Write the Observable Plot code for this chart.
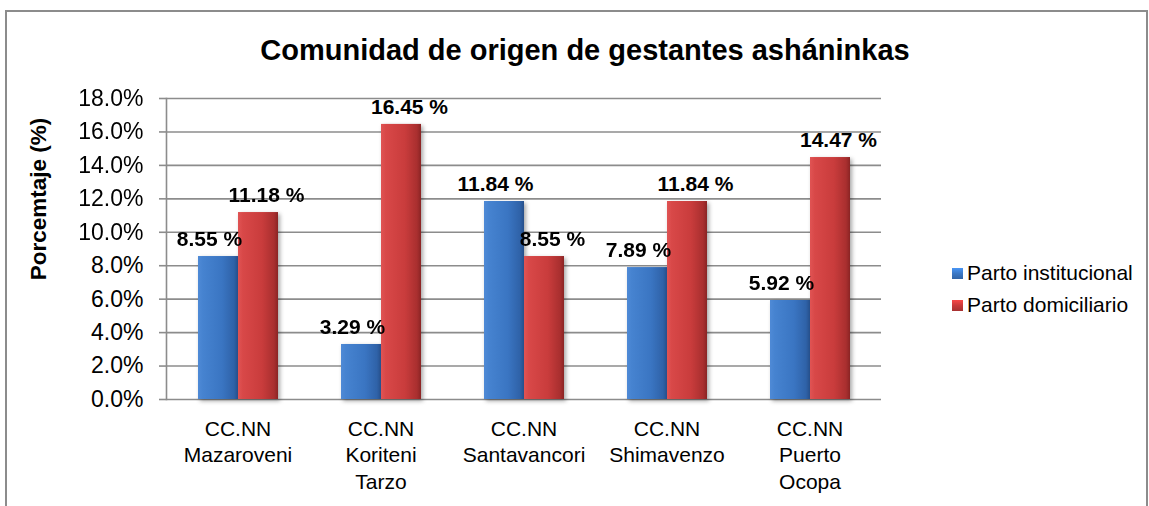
<!DOCTYPE html>
<html>
<head>
<meta charset="utf-8">
<script src="https://cdn.jsdelivr.net/npm/d3@7"></script>
<script src="https://cdn.jsdelivr.net/npm/@observablehq/plot@0.6"></script>
<style>
  html, body { margin: 0; padding: 0; background: #fff; overflow: hidden; }
  #wrap { position: relative; width: 1149px; height: 506px; overflow: hidden; font-family: "Liberation Sans", Arial, sans-serif; }
  #border { position: absolute; left: 5px; top: 10px; width: 1139px; height: 520px; border: 2px solid #8c8c8c; }
  #title { position: absolute; left: 0; width: 1170px; top: 34px; text-align: center; font-weight: bold; font-size: 29px; color: #000; }
  #chart { position: absolute; left: 0; top: 0; }
  #ylabel { position: absolute; left: 39px; top: 199px; transform: translate(-50%, -50%) rotate(-90deg); white-space: nowrap; font-weight: bold; font-size: 22.5px; color: #000; }
  #legend { position: absolute; left: 952px; top: 257px; font-size: 21px; color: #000; }
  .li { display: flex; align-items: center; height: 32px; }
  .sw { width: 11px; height: 11px; margin-right: 4px; }
</style>
</head>
<body>
<div id="wrap">
  <div id="border"></div>
  <div id="chart"></div>
  <div id="title">Comunidad de origen de gestantes asháninkas</div>
  <div id="ylabel">Porcemtaje (%)</div>
  <div id="legend"></div>
</div>
<script>
const categories = ["CC.NN\nMazaroveni", "CC.NN\nKoriteni\nTarzo", "CC.NN\nSantavancori", "CC.NN\nShimavenzo", "CC.NN\nPuerto\nOcopa"];
const series = ["Parto institucional", "Parto domiciliario"];
const institucional = [8.55, 3.29, 11.84, 7.89, 5.92];
const domiciliario = [11.18, 16.45, 8.55, 11.84, 14.47];
const yTicks = [0, 2, 4, 6, 8, 10, 12, 14, 16, 18];
const seriesColors = ["#3b78c6", "#c83a3a"];

const rows = [];
categories.forEach((c, i) => {
  rows.push({cat: c, series: series[0], value: institucional[i]});
  rows.push({cat: c, series: series[1], value: domiciliario[i]});
});

const font = "Liberation Sans, Arial, sans-serif";
const gridColor = "#8c8c8c";
const labelOpts = {fx: "cat", x: "series", y: "value", text: d => d.value.toFixed(2) + " %",
  dy: -17, fontWeight: "bold", fontSize: 21, fill: "#000"};

const plot = Plot.plot({
  width: 1149,
  height: 506,
  marginLeft: 164,
  marginRight: 266,
  marginTop: 98,
  marginBottom: 107,
  style: {fontFamily: font, fontSize: "21px", color: "#000", background: "transparent"},
  fx: {domain: categories, padding: 0, axis: null, label: null},
  x: {domain: series, paddingInner: 0, paddingOuter: 0.754, axis: null},
  y: {domain: [0, 18], axis: null},
  color: {domain: series, range: ["url(#gradInst)", "url(#gradDom)"]},
  marks: [
    Plot.gridY(yTicks, {stroke: gridColor, strokeOpacity: 1, strokeWidth: 1.6}),
    Plot.barY(rows, {fx: "cat", x: "series", y: "value", fill: "series"}),
    Plot.text(rows.filter(d => d.series === series[0]), {...labelOpts, dx: -9}),
    Plot.text(rows.filter(d => d.series === series[1]), {...labelOpts, dx: 8}),
    Plot.frame({anchor: "left", stroke: gridColor, strokeWidth: 1.6, facetAnchor: "left"}),
    Plot.axisY(yTicks, {tickSize: 7, tickPadding: 16, stroke: gridColor, strokeWidth: 1.6,
      tickFormat: d => d.toFixed(1) + "%", fontSize: 23, label: null}),
    Plot.axisFx({anchor: "bottom", tickSize: 0, tickPadding: 17, lineHeight: 1.28, fontSize: 21, label: null})
  ]
});

// gradients for bevelled bars
const ns = "http://www.w3.org/2000/svg";
const defs = document.createElementNS(ns, "defs");
function grad(id, stops) {
  const g = document.createElementNS(ns, "linearGradient");
  g.setAttribute("id", id);
  g.setAttribute("x1", "0"); g.setAttribute("x2", "1"); g.setAttribute("y1", "0"); g.setAttribute("y2", "0");
  stops.forEach(([o, c]) => {
    const s = document.createElementNS(ns, "stop");
    s.setAttribute("offset", o); s.setAttribute("stop-color", c);
    g.appendChild(s);
  });
  defs.appendChild(g);
}
grad("gradInst", [[0, "#4f8ad6"], [0.12, "#4683d0"], [0.6, "#3a75c2"], [0.9, "#2f62a8"], [1, "#264f8a"]]);
grad("gradDom", [[0, "#e05454"], [0.12, "#d84848"], [0.6, "#c93c3c"], [0.9, "#a92f2f"], [1, "#8a2424"]]);
plot.insertBefore(defs, plot.firstChild);
plot.querySelectorAll('[aria-label="bar"]').forEach(g => g.style.filter = "drop-shadow(2px 2px 2px rgba(0,0,0,0.35))");

document.getElementById("chart").appendChild(plot);

const legend = document.getElementById("legend");
series.forEach((s, i) => {
  const li = document.createElement("div");
  li.className = "li";
  const sw = document.createElement("div");
  sw.className = "sw";
  sw.style.background = `linear-gradient(180deg, ${d3.color(seriesColors[i]).brighter(0.6)}, ${seriesColors[i]} 50%, ${d3.color(seriesColors[i]).darker(0.5)})`;
  const tx = document.createElement("span");
  tx.textContent = s;
  li.appendChild(sw); li.appendChild(tx);
  legend.appendChild(li);
});
</script>
</body>
</html>
